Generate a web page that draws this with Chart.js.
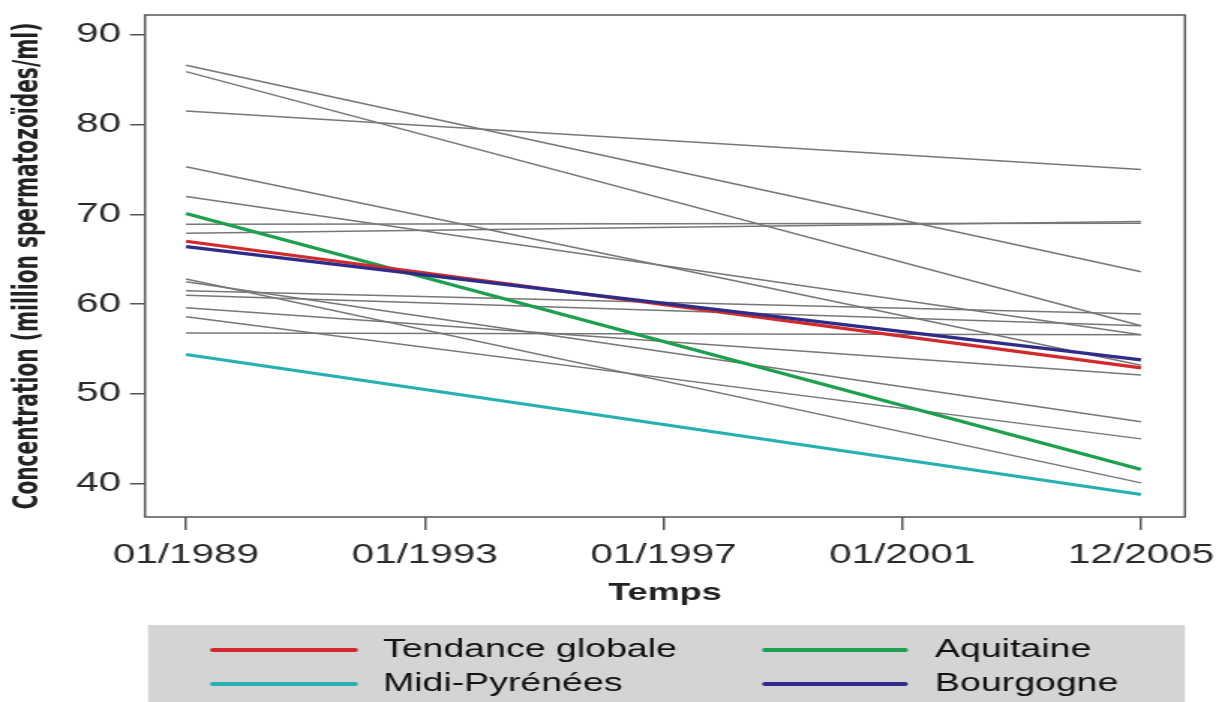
<!DOCTYPE html>
<html>
<head>
<meta charset="utf-8">
<script src="https://cdn.jsdelivr.net/npm/chart.js@4.4.1/dist/chart.umd.min.js"></script>
<style>
  html, body { margin: 0; padding: 0; background: #fff; overflow: hidden; }
  #wrap { position: absolute; left: 0; top: 0; width: 811px; height: 702px; transform: scaleX(1.49938); transform-origin: 0 0; }
  canvas { display: block; }
</style>
</head>
<body>
<div id="wrap"><canvas id="c" width="811" height="702" style="width:811px;height:702px"></canvas></div>
<script>
// ---- data ----
const xTickLabels = ["01/1989", "01/1993", "01/1997", "01/2001", "12/2005"];
const yTickValues = [40, 50, 60, 70, 80, 90];

// regional trend lines (grey): value at 01/1989 and at 12/2005
const greyStart = [86.6, 85.9, 81.5, 75.3, 72.0, 68.9, 67.9, 62.8, 62.5, 61.5, 61.0, 59.6, 58.6, 56.8];
const greyEnd   = [63.6, 57.6, 75.0, 53.2, 56.6, 69.0, 69.2, 40.1, 46.9, 58.9, 57.6, 52.1, 45.0, 56.6];

const seriesNames = ["Bourgogne", "Tendance globale", "Aquitaine", "Midi-Pyrénées"];
const seriesStart = [66.4, 67.0, 70.1, 54.4];
const seriesEnd   = [53.8, 52.9, 41.6, 38.8];
const seriesColors = ["#2e2c88", "#d22a2c", "#1d9f4e", "#27b0b2"];

const legendOrder = [
  ["Tendance globale", "#d22a2c"], ["Aquitaine", "#1d9f4e"],
  ["Midi-Pyrénées", "#27b0b2"], ["Bourgogne", "#2e2c88"]
];

const yTitle = 'Concentration (million spermatozoïdes/ml)';
const yTitleFamily = '"Liberation Sans Narrow", "DejaVu Sans Condensed", "Arial Narrow", sans-serif';

// fit the rotated axis title to the reference length (about 487 px)
const mctx = document.createElement('canvas').getContext('2d');
mctx.font = 'bold 29px ' + yTitleFamily;
const yTitleSize = Math.max(16, Math.min(30, 29 * 487 / mctx.measureText(yTitle).width));

// ---- build datasets ----
const lastIdx = xTickLabels.length - 1;
const datasets = [];
seriesNames.forEach((n, i) => {
  datasets.push({
    label: n,
    data: [{x: 0, y: seriesStart[i]}, {x: lastIdx, y: seriesEnd[i]}],
    borderColor: seriesColors[i], borderWidth: 3.2, pointRadius: 0, fill: false
  });
});
greyStart.forEach((s, i) => {
  datasets.push({
    label: "region " + (i + 1),
    data: [{x: 0, y: s}, {x: lastIdx, y: greyEnd[i]}],
    borderColor: "#777777", borderWidth: 1.5, pointRadius: 0, fill: false
  });
});

const frame = {
  id: 'frame',
  afterDraw(chart) {
    const {ctx, chartArea: a} = chart;
    ctx.save();
    ctx.strokeStyle = '#555';
    ctx.lineWidth = 1.5;
    ctx.strokeRect(a.left, a.top, a.right - a.left, a.bottom - a.top);
    // legend box
    const bx = 98.7, bw = 790.3 - 98.7, by = 625, bh = 702 - 625;
    ctx.fillStyle = '#d4d4d4';
    ctx.fillRect(bx, by, bw, bh);
    const rows = [650, 684];
    const cols = [{l0: 142, l1: 236.8, t: 255.4}, {l0: 510.2, l1: 603.6, t: 623.6}];
    ctx.font = '25px "Liberation Sans", Arial, sans-serif';
    ctx.textBaseline = 'middle';
    ctx.textAlign = 'left';
    legendOrder.forEach((item, k) => {
      const r = rows[Math.floor(k / 2)], c = cols[k % 2];
      ctx.strokeStyle = item[1];
      ctx.lineWidth = 4;
      ctx.lineCap = 'round';
      ctx.beginPath(); ctx.moveTo(c.l0, r); ctx.lineTo(c.l1, r); ctx.stroke();
      ctx.fillStyle = '#111';
      ctx.fillText(item[0], c.t, r);
    });
    ctx.restore();
  }
};

function noPad(s) { s.paddingLeft = 0; s.paddingRight = 0; s.paddingTop = 0; s.paddingBottom = 0; }

new Chart(document.getElementById('c'), {
  type: 'line',
  data: { datasets },
  plugins: [frame],
  options: {
    responsive: false,
    animation: false,
    events: [],
    layout: { padding: { left: 0, right: 20.7, top: 15, bottom: 94 } },
    plugins: { legend: { display: false }, tooltip: { enabled: false } },
    scales: {
      x: {
        type: 'linear', min: -0.1718, max: 4.184,
        afterBuildTicks: s => { s.ticks = xTickLabels.map((_, i) => ({value: i})); },
        afterFit: s => { s.height = 91; noPad(s); },
        grid: { drawOnChartArea: false, drawTicks: true, tickLength: 13, color: '#555', lineWidth: 1.5 },
        border: { display: false },
        ticks: {
          callback: (v) => xTickLabels[v] !== undefined ? xTickLabels[v] : '',
          font: { family: '"Liberation Sans", Arial, sans-serif', size: 27 },
          color: '#2a2a2a', padding: 9, maxRotation: 0, autoSkip: false
        },
        title: {
          display: true, text: 'Temps',
          font: { family: '"Liberation Sans", Arial, sans-serif', size: 24, weight: 'bold' },
          color: '#222', padding: { top: 0, bottom: 0 }
        }
      },
      y: {
        type: 'linear', min: 36.3, max: 92.2,
        afterBuildTicks: s => { s.ticks = yTickValues.map(v => ({value: v})); },
        afterFit: s => { s.width = 96.7; noPad(s); },
        grid: { drawOnChartArea: false, drawTicks: true, tickLength: 10, color: '#555', lineWidth: 1.5 },
        border: { display: false },
        ticks: {
          font: { family: '"Liberation Sans", Arial, sans-serif', size: 27 },
          color: '#2a2a2a', padding: 6
        },
        title: {
          display: true, text: yTitle,
          font: { family: yTitleFamily, size: yTitleSize, weight: 'bold' },
          color: '#222', padding: { top: 6, bottom: 0 }
        }
      }
    }
  }
});
</script>
</body>
</html>
